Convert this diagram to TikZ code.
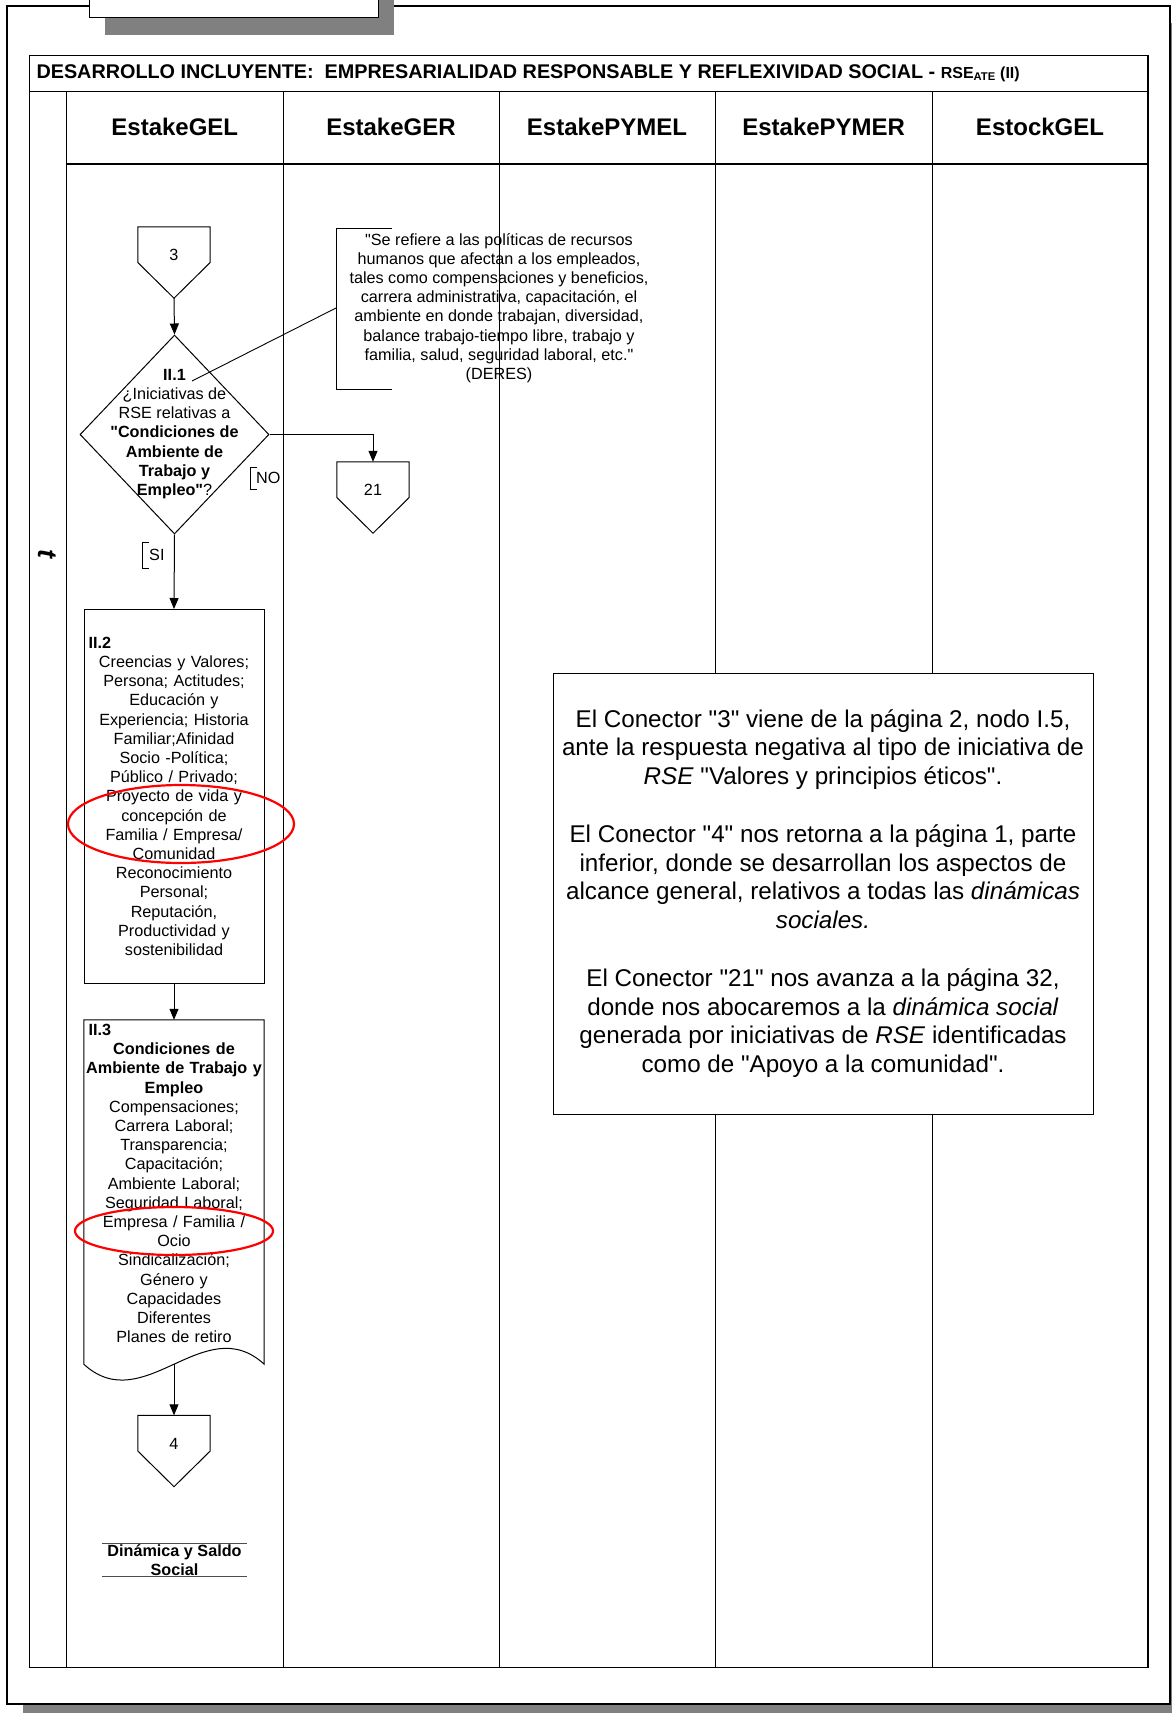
\documentclass[tikz,border=0pt]{standalone}
\usepackage{fontspec}
\setmainfont{Liberation Sans}
\newfontfamily\arial{Liberation Sans}
\AtBeginDocument{\arial}
\usetikzlibrary{arrows.meta,shapes.geometric}
\tikzset{
  linea/.style={line width=1pt},
  flecha/.style={line width=1pt,-{Triangle[length=11pt,width=9pt]}},
  cuerpo/.style={font=\fontsize{16.2}{19.2}\selectfont},
  conector/.style={cuerpo,minimum width=72pt,minimum height=71pt,inner sep=0pt,text height=8pt,text depth=12pt},
  caja/.style={cuerpo,align=center,text width=180pt,inner xsep=0pt},
  encabezado/.style={font=\fontsize{24}{28}\selectfont\bfseries},
  marca/.style={draw=red,line width=2.2pt},
}
\newcommand{\etiq}[1]{\makebox[180pt][l]{\hspace*{4.5pt}\textbf{#1}}}
\begin{document}
\begin{tikzpicture}[x=1pt,y=-1pt]
\useasboundingbox(0,0)rectangle(1172,1713);
%page frame
\fill[black!50](23,23)rectangle(1190,1730);
\draw[line width=2pt,fill=white](7,5.7)rectangle(1170,1704);
%tab
\fill[black!50](105,-20)rectangle(394,34.7);
\draw[linea,fill=white](89,-20)rectangle(378,17.3);
%table
\draw[line width=1.3pt](29.5,55.7)rectangle(1148,1667.7);
\draw[line width=1.3pt](29.5,91.8)--(1148,91.8);
\draw[line width=1.3pt](66.6,164)--(1148,164);
\foreach \x in {66.6,283,499,715.5,932}
  \draw[linea](\x,91.8)--(\x,1667.7);
\node[anchor=west,font=\fontsize{19.8}{22}\selectfont\bfseries](titulo)at(33,73){DESARROLLO INCLUYENTE:\ \ EMPRESARIALIDAD RESPONSABLE Y REFLEXIVIDAD SOCIAL - {\fontsize{16}{18}\selectfont RSE\textsubscript{ATE} (II)}};
\foreach \n/\x in {EstakeGEL/174.8,EstakeGER/391,EstakePYMEL/607,EstakePYMER/823.7,EstockGEL/1040}
  \node[encabezado](h\n)at(\x,127){\n};
\node[font=\fontsize{27}{27}\selectfont\bfseries\itshape,rotate=-90](tiempo)at(47,554){t};

%connectors
\node[conector](c3)at(174,262.5){3};
\draw[linea](c3.north west)--(c3.west)--(c3.south)--(c3.east)--(c3.north east)--cycle;
\node[conector](c21)at(373,497.5){21};
\draw[linea](c21.north west)--(c21.west)--(c21.south)--(c21.east)--(c21.north east)--cycle;
\node[conector](c4)at(174,1451){4};
\draw[linea](c4.north west)--(c4.west)--(c4.south)--(c4.east)--(c4.north east)--cycle;

%II.1 decision
\node[diamond,draw,linea,minimum width=189pt,minimum height=199pt,inner sep=0pt](d1)at(174.5,434.5){};
\node[cuerpo,align=center](t1)at(174.5,434){\textbf{II.1}\\¿Iniciativas de\\RSE relativas a\\\textbf{"Condiciones de}\\\textbf{Ambiente de}\\\textbf{Trabajo y}\\\textbf{Empleo"}?};
\node[cuerpo,anchor=west,inner sep=0pt](no)at(256,478){NO};
\draw[linea]([shift={(1,-11)}]no.west)--++(-7,0)--++(0,22)--++(7,0);
\node[cuerpo,anchor=west,inner sep=0pt](si)at(149,555){SI};
\draw[linea]([shift={(0,-13)}]si.west)--++(-7,0)--++(0,26)--++(7,0);

%annotation
\node[cuerpo,align=center](anot)at(499,308){"Se refiere a las políticas de recursos\\humanos que afectan a los empleados,\\tales como compensaciones y beneficios,\\carrera administrativa, capacitación, el\\ambiente en donde trabajan, diversidad,\\balance trabajo-tiempo libre, trabajo y\\familia, salud, seguridad laboral, etc."\\(DERES)};
\draw[linea](392,228)-|(336,389)--(392,389);
\coordinate(brk)at(336,308);
\coordinate(ii1)at(192,381);
\draw[line width=0.9pt](ii1)--(brk);

%II.2
\node[caja,draw,linea,minimum height=373.5pt](b2)at(174,796.25){\etiq{II.2}\\Creencias y Valores;\\Persona; Actitudes;\\Educación y\\Experiencia; Historia\\Familiar;Afinidad\\Socio -Política;\\Público / Privado;\\Proyecto de vida y\\concepción de\\Familia / Empresa/\\Comunidad\\Reconocimiento\\Personal;\\Reputación,\\Productividad y\\sostenibilidad};

%II.3
\node[caja,minimum height=327pt](b3)at(174,1183.5){\etiq{II.3}\\\textbf{Condiciones de}\\\textbf{Ambiente de Trabajo y}\\\textbf{Empleo}\\Compensaciones;\\Carrera Laboral;\\Transparencia;\\Capacitación;\\Ambiente Laboral;\\Seguridad Laboral;\\Empresa / Familia /\\Ocio\\Sindicalización;\\Género y\\Capacidades\\Diferentes\\Planes de retiro};
\draw[linea](b3.north west)--(b3.north east)--([yshift=-17pt]b3.south east) .. controls +(-60,-55) and +(60,55) .. ([yshift=-17pt]b3.south west)--cycle;
\coordinate(b3w)at([yshift=-17pt]b3.south);

%flow arrows
\draw[flecha](c3.south)--(d1.north);
\draw[flecha](d1.east)-|(c21.north);
\draw[flecha](d1.south)--(b2.north);
\draw[flecha](b2.south)--(b3.north);
\draw[flecha](b3w)--(c4.north);

%closing label
\node[font=\fontsize{16.2}{19.2}\selectfont\bfseries,align=center,minimum width=145pt,inner ysep=1pt](dss)at(174.5,1560){Dinámica y Saldo\\Social};
\draw[line width=1.2pt,black!70](dss.north west)--(dss.north east)(dss.south west)--(dss.south east);

%note
\node[draw,linea,fill=white,font=\fontsize{24.2}{28.8}\selectfont,align=center,minimum width=540pt,minimum height=441pt](nota)at(823,893.5){El Conector "3" viene de la página 2, nodo I.5,\\ante la respuesta negativa al tipo de iniciativa de\\\textit{RSE} "Valores y principios éticos".\\[28.8pt]El Conector "4" nos retorna a la página 1, parte\\inferior, donde se desarrollan los aspectos de\\alcance general, relativos a todas las \textit{dinámicas}\\\textit{sociales.}\\[28.8pt]El Conector "21" nos avanza a la página 32,\\donde nos abocaremos a la \textit{dinámica social}\\generada por iniciativas de \textit{RSE} identificadas\\como de "Apoyo a la comunidad".};

%red marks
\draw[marca](181,824)ellipse[x radius=113pt,y radius=39pt];
\draw[marca](174,1231)ellipse[x radius=99pt,y radius=24pt];
\end{tikzpicture}
\end{document}
